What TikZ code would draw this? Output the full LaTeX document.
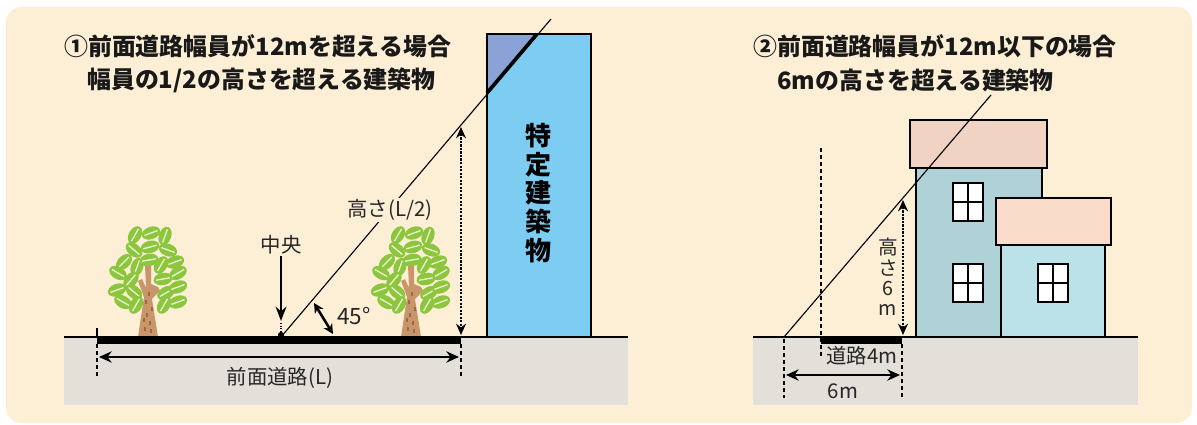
\documentclass[tikz,border=0pt]{standalone}
\usepackage{fontspec}
\setmainfont{Noto Sans CJK JP}
\usetikzlibrary{arrows.meta}
\definecolor{bgcream}{HTML}{FDEFD6}
\definecolor{groundgray}{HTML}{E3E0DA}
\definecolor{bldblue}{HTML}{7DCDF3}
\definecolor{bldpurple}{HTML}{8AA2D6}
\definecolor{roofa}{HTML}{F1D3C3}
\definecolor{roofb}{HTML}{F9DCCA}
\definecolor{walla}{HTML}{AED2D8}
\definecolor{wallb}{HTML}{BBE2E9}
\definecolor{leafgreen}{HTML}{8CC63F}
\definecolor{leafvein}{HTML}{EEF6D2}
\definecolor{trunkbrown}{HTML}{C9966B}
\definecolor{trunkdark}{HTML}{A0693F}
\newcommand{\kitree}[1]{%
  \begin{scope}[shift={(#1,337)}]
    \fill[trunkbrown](-10,0)--(-4,-40)--(-10,-56)--(-6,-58)--(-2,-49)--(-3,-72)--(3,-72)--(3,-53)--(10,-50)--(12,-46)--(4,-38)--(10,0)--cycle;
    \foreach \mx/\my in {-3/-6,2/-12,-1/-20,4/-26,-2/-33,1/-41,3/-4,-4/-15}
      \draw[trunkdark,line width=0.9pt](\mx,\my)--++(0,-4);
    \foreach \lx/\ly/\la in {-13/-102/60,3/-104/20,17/-101/70,-14/-87/-40,2/-90/15,20/-87/-20,
      -24/-75/45,-11/-70/70,1/-77/10,13/-72/60,27/-75/20,-30/-64/-30,-17/-57/50,15/-58/10,
      30/-64/30,-31/-47/20,-14/-45/-40,18/-44/30,30/-50/20,-25/-35/-30,-12/-32/60,16/-32/60,30/-35/20}{
      \begin{scope}[shift={(\lx,\ly)},rotate=\la]
        \fill[leafgreen](0,0) ellipse (9.5 and 6.2);
        \draw[leafvein,line width=0.9pt](-7,0)--(7,0);
      \end{scope}}
  \end{scope}}
\begin{document}
\begin{tikzpicture}[x=0.025cm,y=-0.025cm,>=Stealth,
  ttl/.style={font=\bfseries\fontsize{17}{18}\selectfont,anchor=west,inner sep=0pt,text=black!90},
  lbl/.style={font=\fontsize{14.5}{15}\selectfont,inner sep=1pt,text=black!85},
  dimline/.style={line width=2pt,{Stealth[length=9pt,width=8pt]}-{Stealth[length=9pt,width=8pt]}},
  dotarrow/.style={line width=1.5pt,densely dotted,{Stealth[length=8pt,width=7pt]}-{Stealth[length=8pt,width=7pt]}},
  guide/.style={line width=0.9pt,densely dashed}]
\useasboundingbox(0,0)rectangle(1197,425);
\fill[white](0,0)rectangle(1197,425);
\fill[bgcream,rounded corners=11pt](6,7)rectangle(1192,423);
% left
\fill[groundgray](64,337)rectangle(628,405);
\kitree{148}
\kitree{411}
\fill[bldblue](487,34)rectangle(591,337);
\fill[bldpurple](487,34)--(537,34)--(487,93)--cycle;
\draw[line width=1.3pt](487,34)rectangle(591,337);
\draw[line width=2pt](487,93)--(487,34)--(537,34);
\node[font=\bfseries\fontsize{18.5}{20.5}\selectfont,align=center] (bld) at (539,193) {特\\定\\建\\築\\物};
\draw[line width=1.5pt](64,337)--(628,337);
\fill(97,337)rectangle(461,344);
\draw[line width=0.8pt](97,328)--(97,337);
\coordinate (cen) at (281,337);
\draw[line width=0.8pt](cen)--(551,19);
\draw[line width=2.6pt](487,93)--(537,34);
\node[lbl,fill=bgcream] (hl) at (390,210) {高さ(L/2)};
\draw[dotarrow](461,127)--(461,335);
\draw[guide](97,344)--(97,376);
\draw[guide](461,344)--(461,376);
\draw[dimline](99,357)--(459,357);
\node[lbl] (road) at (280,378) {前面道路(L)};
\node[lbl] (chuo) at (281,245) {中央};
\draw[->,line width=1.6pt](chuo.south)--(281,321);
\draw[line width=0.8pt,densely dotted](281,323)--(281,333);
\fill(cen)++(0,-2)circle(2.2pt);
\draw[line width=1.8pt,{Stealth[length=7pt,width=7pt]}-{Stealth[length=7pt,width=7pt]}](314,303)--(333,334);
\node[lbl,font=\fontsize{16}{17}\selectfont] (deg) at (354,316) {45°};
\node[ttl] (ta) at (64,46) {①前面道路幅員が12mを超える場合};
\node[ttl] (tb) at (87,80) {幅員の1/2の高さを超える建築物};
% right
\fill[groundgray](753,337)rectangle(1138,405);
\fill[walla](916,168)rectangle(1042,337);
\draw[line width=1.2pt](916,337)--(916,168)--(1042,168)--(1042,245);
\fill[roofa](910,120)rectangle(1047,168);
\draw[line width=1.2pt](910,120)rectangle(1047,168);
\fill[wallb](1001,245)rectangle(1105,337);
\draw[line width=1.2pt](1001,245)rectangle(1105,337);
\fill[roofb](996,198)rectangle(1111,245);
\draw[line width=1.2pt](996,198)rectangle(1111,245);
\foreach \wx/\wy in {953/183,953/264,1038/264}{
  \fill[white](\wx,\wy)rectangle++(30,38);
  \draw[line width=1pt](\wx,\wy)rectangle++(30,38);
  \draw[line width=1pt](\wx+15,\wy)--++(0,38) (\wx,\wy+19)--++(30,0);}
\draw[line width=1.5pt](753,337)--(1138,337);
\fill(821,337)rectangle(902,344);
\coordinate (base) at (784,337);
\draw[line width=0.8pt](base)--(991,95);
\draw[guide](821,148)--(821,358);
\draw[guide](784,339)--(784,398);
\draw[guide](902,344)--(902,398);
\draw[dotarrow](903,200)--(903,335);
\node[lbl,align=center,font=\fontsize{14}{14.5}\selectfont] (h6) at (888,277) {高\\さ\\6\\m};
\node[lbl] (r4) at (862,356) {道路4m};
\draw[dimline](786,375)--(900,375);
\node[lbl] (six) at (843,391) {6m};
\node[ttl] (tc) at (753,46) {②前面道路幅員が12m以下の場合};
\node[ttl] (td) at (777,80) {6mの高さを超える建築物};
\end{tikzpicture}
\end{document}
